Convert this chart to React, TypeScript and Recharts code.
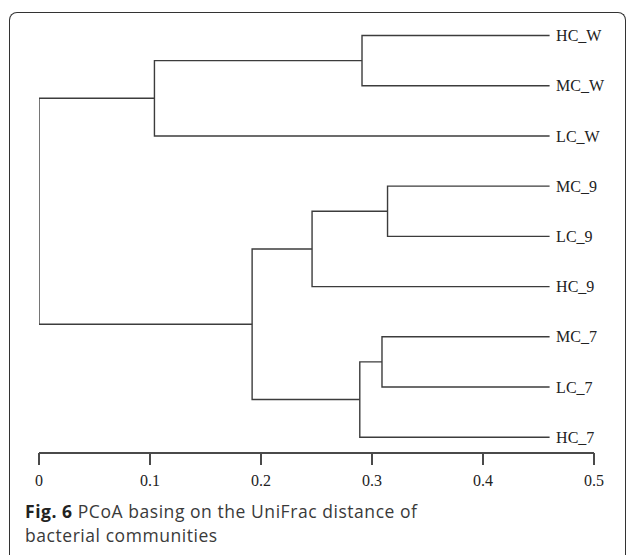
import React from "react";
import { LineChart, Line, XAxis, YAxis, Scatter, LabelList } from "recharts";

// leaves, top to bottom
const leafNames = ["HC_W", "MC_W", "LC_W", "MC_9", "LC_9", "HC_9", "MC_7", "LC_7", "HC_7"];
const leafEnd = 0.46;

// merges: child ids < 9 are leaves, >= 9 are earlier merges
const mergeLeft = [0, 9, 3, 11, 6, 13, 12, 10];
const mergeRight = [1, 2, 4, 5, 7, 8, 14, 15];
const mergeHeight = [0.291, 0.104, 0.314, 0.246, 0.309, 0.289, 0.192, 0];

const xTicks = [0, 0.1, 0.2, 0.3, 0.4, 0.5];

const lineColor = "#3c3c3c";

type Pt = { x: number; y: number };

function buildTree() {
  const pos: Pt[] = leafNames.map((_, i) => ({ x: leafEnd, y: i }));
  const segments: Pt[][] = [];
  mergeHeight.forEach((h, i) => {
    const a = pos[mergeLeft[i]];
    const b = pos[mergeRight[i]];
    segments.push([
      { x: a.x, y: a.y },
      { x: h, y: a.y },
      { x: h, y: b.y },
      { x: b.x, y: b.y },
    ]);
    pos.push({ x: h, y: (a.y + b.y) / 2 });
  });
  return segments;
}

const segments = buildTree();
const leafPoints = leafNames.map((name, i) => ({ x: leafEnd, y: i, name }));

const captionStyle: React.CSSProperties = {
  position: "absolute",
  left: 25,
  width: 480,
  height: 20,
  fontFamily: "'Open Sans', sans-serif",
  fontSize: 17.5,
  letterSpacing: 0.55,
  lineHeight: "20px",
  color: "#3a3a3a",
  whiteSpace: "nowrap",
};

export default function App() {
  return (
    <div style={{ position: "absolute", left: 0, top: 0, width: 627, height: 555, background: "#fff", overflow: "hidden" }}>
      <div
        style={{
          position: "absolute",
          left: 9,
          top: 12,
          width: 615,
          height: 545,
          border: "1.5px solid #333",
          borderBottom: "none",
          borderRadius: "8px 8px 0 0",
        }}
      />
      <div style={{ position: "absolute", left: 0, top: 0 }}>
        <LineChart width={627} height={555} margin={{ top: 20, right: 33, bottom: 62, left: 39 }}>
          <XAxis
            type="number"
            dataKey="x"
            domain={[0, 0.5]}
            allowDataOverflow
            ticks={xTicks}
            height={40}
            tickSize={12}
            tickMargin={10}
            axisLine={{ stroke: "#4a4a4a", strokeWidth: 2 }}
            tickLine={{ stroke: "#4a4a4a", strokeWidth: 2 }}
            tick={{ fill: "#222", fontSize: 16, fontFamily: "Liberation Serif, serif" }}
          />
          <YAxis type="number" dataKey="y" domain={[-0.31, 8.315]} allowDataOverflow reversed hide />
          {segments.map((seg, i) => (
            <Line
              key={i}
              data={seg}
              dataKey="y"
              type="linear"
              stroke={lineColor}
              strokeWidth={1.4}
              dot={false}
              activeDot={false}
              isAnimationActive={false}
            />
          ))}
          <Scatter data={leafPoints} dataKey="y" shape={() => <g />} isAnimationActive={false}>
            <LabelList
              dataKey="name"
              position="right"
              offset={2}
              fill="#222"
              fontSize={16}
              fontFamily="Liberation Serif, serif"
            />
          </Scatter>
        </LineChart>
      </div>
      <div style={{ ...captionStyle, top: 501 }}>
        <span style={{ fontWeight: 700, color: "#222" }}>Fig. 6</span> PCoA basing on the UniFrac distance of
      </div>
      <div style={{ ...captionStyle, top: 525 }}>bacterial communities</div>
    </div>
  );
}
